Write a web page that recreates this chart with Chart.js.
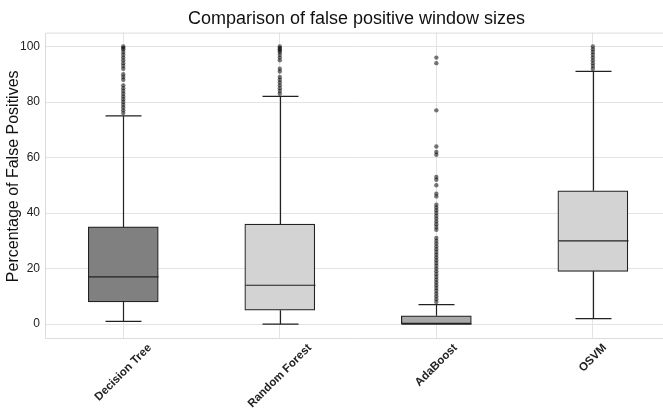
<!DOCTYPE html>
<html>
<head>
<meta charset="utf-8">
<script src="https://cdn.jsdelivr.net/npm/chart.js@4"></script>
<style>
  body { margin: 0; background: #fff; overflow: hidden; }
</style>
</head>
<body>
<canvas id="box-chart" width="668" height="411"></canvas>
<script>
// データ
const categories = ['Decision Tree', 'Random Forest', 'AdaBoost', 'OSVM'];
const whiskerLow = [1, 0, 0, 2];
const q1 = [8, 5, 0, 19];
const medians = [17, 14, 0, 30];
const q3 = [35, 36, 3, 48];
const whiskerHigh = [75, 82, 7, 91];
const outliersDT = [100, 99.5, 99, 98, 97, 96, 95, 94, 93, 92, 90, 89, 88, 86, 85, 84, 83, 82, 81, 80, 79, 78, 77, 76];
const outliersRF = [100, 99.5, 99, 98.5, 98, 97, 96, 95, 92, 91, 89, 88, 87, 86, 85, 84, 83];
const outliersAda = [96, 94, 77, 64, 62, 61, 53, 52, 50, 47, 46, 43, 42, 41, 40, 39, 38, 37, 36, 35, 34,
  31, 30, 29, 28, 27, 26, 25, 24, 23, 22, 21, 20, 19, 18, 17, 16, 15, 14, 13, 12, 11, 10, 9, 8];
const outliersOSVM = [100, 99, 98, 97, 96, 95, 94, 93, 92];
const yTicks = [0, 20, 40, 60, 80, 100];
const boxColors = ['#808080', '#d3d3d3', '#a9a9a9', '#d3d3d3'];
const yTitle = 'Percentage of False Positives';

Chart.defaults.font.family = '"Liberation Sans", Arial, sans-serif';
Chart.defaults.color = '#222';

const outlierPoints = [];
[outliersDT, outliersRF, outliersAda, outliersOSVM].forEach(function(list, i) {
  list.forEach(function(v) { outlierPoints.push({ x: i, y: v }); });
});

// 枠線・ひげ・中央値・軸ラベル
const boxPlugin = {
  id: 'boxPlugin',
  beforeDatasetsDraw: function(chart) {
    const a = chart.chartArea;
    const ctx = chart.ctx;
    ctx.save();
    ctx.strokeStyle = '#dcdcdc';
    ctx.lineWidth = 1;
    ctx.beginPath();
    ctx.moveTo(a.right, a.top + 0.5);
    ctx.lineTo(a.left + 0.5, a.top + 0.5);
    ctx.lineTo(a.left + 0.5, a.bottom + 0.5);
    ctx.lineTo(a.right, a.bottom + 0.5);
    ctx.stroke();
    ctx.restore();
  },
  afterDatasetsDraw: function(chart) {
    const ctx = chart.ctx;
    const xs = chart.scales.x;
    const ys = chart.scales.y;
    const bars = chart.getDatasetMeta(0).data;
    ctx.save();
    ctx.strokeStyle = '#222';
    ctx.lineWidth = 1.2;
    categories.forEach(function(c, i) {
      const x = Math.round(xs.getPixelForValue(i)) + 0.5;
      const half = bars[i].width / 2;
      const cap = half / 2 + 0.5;
      const yl = ys.getPixelForValue(whiskerLow[i]);
      const y1 = ys.getPixelForValue(q1[i]);
      const y3 = ys.getPixelForValue(q3[i]);
      const yh = ys.getPixelForValue(whiskerHigh[i]);
      const ym = ys.getPixelForValue(medians[i]);
      ctx.beginPath();
      ctx.moveTo(x, y3); ctx.lineTo(x, yh);
      ctx.moveTo(x - cap, yh); ctx.lineTo(x + cap, yh);
      ctx.moveTo(x, y1); ctx.lineTo(x, yl);
      ctx.moveTo(x - cap, yl); ctx.lineTo(x + cap, yl);
      ctx.moveTo(x - half, ym); ctx.lineTo(x + half, ym);
      ctx.stroke();
    });
    ctx.restore();
  },
  afterDraw: function(chart) {
    const ctx = chart.ctx;
    const xs = chart.scales.x;
    const a = chart.chartArea;
    const top = a.bottom + 4;
    const fs = 11.5;
    ctx.save();
    ctx.font = 'bold ' + fs + 'px "Liberation Sans", Arial, sans-serif';
    ctx.fillStyle = '#222';
    ctx.textAlign = 'center';
    ctx.textBaseline = 'middle';
    categories.forEach(function(c, i) {
      const w = ctx.measureText(c).width;
      const h = (w + fs) * Math.SQRT1_2;
      ctx.save();
      ctx.translate(xs.getPixelForValue(i), top + h / 2);
      ctx.rotate(-Math.PI / 4);
      ctx.fillText(c, 0, 0);
      ctx.restore();
    });
    // y軸タイトル
    ctx.font = '16px "Liberation Sans", Arial, sans-serif';
    ctx.fillStyle = '#111';
    ctx.save();
    ctx.translate(14, (a.top + a.bottom) / 2 - 9);
    ctx.rotate(-Math.PI / 2);
    ctx.fillText(yTitle, 0, 0);
    ctx.restore();
    ctx.restore();
  }
};

new Chart(document.getElementById('box-chart'), {
  type: 'bar',
  data: {
    datasets: [{
      type: 'bar',
      data: categories.map(function(c, i) { return { x: i, y: [q1[i], q3[i]] }; }),
      backgroundColor: boxColors,
      borderColor: '#222',
      borderWidth: 1.2,
      borderSkipped: false,
      barThickness: 70
    }, {
      type: 'scatter',
      data: outlierPoints,
      pointRadius: 2.2,
      pointBackgroundColor: 'rgba(10,10,10,0.55)',
      pointBorderWidth: 0
    }]
  },
  options: {
    responsive: false,
    animation: false,
    events: [],
    layout: { padding: 0, autoPadding: false },
    plugins: {
      legend: { display: false },
      tooltip: { enabled: false },
      title: {
        display: true,
        text: 'Comparison of false positive window sizes',
        fullSize: false,
        color: '#111',
        font: { size: 18, weight: 'normal' },
        padding: { top: 8, bottom: 3 }
      }
    },
    scales: {
      x: {
        type: 'linear',
        min: -0.5,
        max: 3.48,
        offset: false,
        grid: { offset: false, color: '#e3e3e3', drawTicks: false },
        border: { display: false },
        ticks: { display: false },
        afterBuildTicks: function(scale) {
          scale.ticks = categories.map(function(c, i) { return { value: i }; });
        },
        afterFit: function(scale) { scale.height = 73; }
      },
      y: {
        min: -5,
        max: 105,
        grid: { color: '#e3e3e3', drawTicks: false },
        border: { display: false },
        ticks: { padding: 5, font: { size: 12 }, color: '#222' },
        afterBuildTicks: function(scale) {
          scale.ticks = yTicks.map(function(v) { return { value: v }; });
        },
        afterFit: function(scale) { scale.width = 45; }
      }
    }
  },
  plugins: [boxPlugin]
});
</script>
</body>
</html>
